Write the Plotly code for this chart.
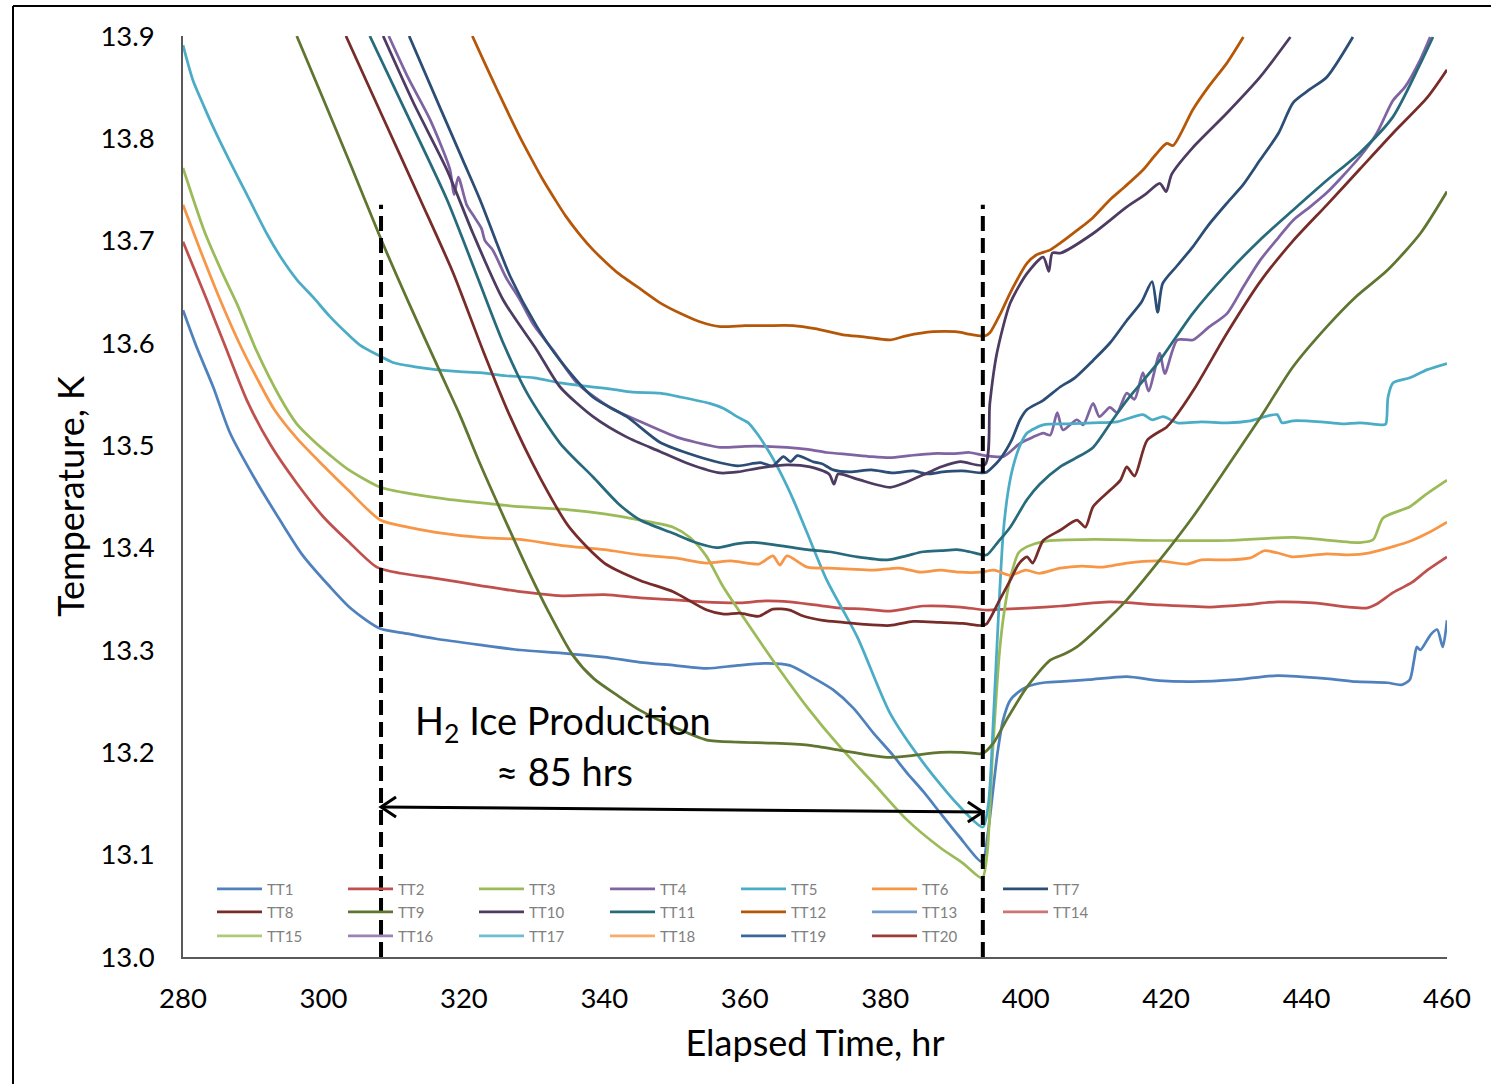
import plotly.graph_objects as go

# ---------------- data ----------------
X_RANGE = [280, 460]
Y_RANGE = [13.0, 13.9]
X_TICKS = [280, 300, 320, 340, 360, 380, 400, 420, 440, 460]
Y_TICKS = [13.0, 13.1, 13.2, 13.3, 13.4, 13.5, 13.6, 13.7, 13.8, 13.9]

SERIES_NAMES = ["TT%d" % i for i in range(1, 21)]
SERIES_COLORS = ["#4F81BD", "#C0504D", "#9BBB59", "#8064A2", "#4BACC6", "#F79646", "#2C4D75",
                 "#772C2A", "#5F7530", "#4D3B62", "#276A7C", "#B65708", "#729ACA", "#CD7371",
                 "#AFC97A", "#9983B5", "#6FBDD1", "#F9AB6B", "#3A679C", "#9E3A38"]

# (elapsed time [hr], temperature [K])
tt1 = [(280, 13.632), (282, 13.595), (284.3, 13.557), (286.7, 13.512), (290, 13.47), (293.8, 13.427),
       (297, 13.393), (300.9, 13.362), (304, 13.34), (308.05, 13.321), (312, 13.316), (316, 13.311),
       (322.3, 13.305), (328, 13.300), (334, 13.297), (340, 13.293), (345.1, 13.288), (350, 13.285),
       (354.6, 13.282), (359, 13.285), (363.2, 13.287), (366.4, 13.285), (369.7, 13.273), (372.6, 13.261),
       (375.5, 13.243), (378.3, 13.219), (381, 13.198), (383.1, 13.180), (385.5, 13.161), (387.8, 13.141),
       (390.5, 13.118), (393.8, 13.093), (394.6, 13.12), (395.3, 13.16), (396, 13.20), (396.8, 13.232),
       (397.8, 13.251), (399, 13.259), (400.2, 13.264), (402.5, 13.268), (404.9, 13.269), (409, 13.271),
       (414.4, 13.274), (419, 13.270), (423.8, 13.269), (430, 13.271), (435.8, 13.275), (442.9, 13.272),
       (447, 13.269), (451.5, 13.268), (453.5, 13.266), (454.7, 13.271), (455.3, 13.290), (455.7, 13.303),
       (456.2, 13.300), (457.2, 13.310), (457.8, 13.316), (458.6, 13.320), (459.4, 13.303), (460, 13.329)]

tt2 = [(280, 13.699), (283.4, 13.642), (286, 13.597), (289.1, 13.544), (292.5, 13.500), (296.2, 13.463),
       (300, 13.430), (303.4, 13.407), (307.6, 13.381), (311, 13.375), (316, 13.370), (322.3, 13.363),
       (328, 13.357), (334, 13.353), (340, 13.354), (345.1, 13.351), (350, 13.349), (354, 13.347),
       (359.3, 13.346), (363, 13.348), (366.4, 13.347), (370, 13.344), (373.6, 13.341), (377, 13.340),
       (380.7, 13.338), (385.4, 13.343), (390.7, 13.342), (394.5, 13.339), (397, 13.340), (400.2, 13.341),
       (405, 13.343), (412, 13.347), (419.1, 13.344), (426.3, 13.342), (431, 13.344), (435.8, 13.347),
       (441, 13.346), (446, 13.342), (448.5, 13.341), (450, 13.345), (452.3, 13.356), (455, 13.366),
       (457.2, 13.378), (460, 13.391)]

tt3 = [(280, 13.771), (283, 13.71), (285.5, 13.67), (287.7, 13.638), (290.5, 13.592), (293.8, 13.547),
       (296.2, 13.521), (298.5, 13.505), (301, 13.490), (303.4, 13.477), (308.1, 13.459), (313, 13.452),
       (318, 13.447), (322.3, 13.444), (328, 13.440), (335, 13.437), (340, 13.433), (345.1, 13.427),
       (349.8, 13.420), (352.2, 13.410), (354.5, 13.392), (356.9, 13.362), (360, 13.330), (364, 13.290),
       (368.9, 13.244), (373.6, 13.205), (378.3, 13.170), (383.1, 13.134), (387.8, 13.107), (391, 13.092),
       (393.8, 13.077), (394.5, 13.10), (395.3, 13.20), (396.3, 13.30), (397.0, 13.34), (397.8, 13.37),
       (399, 13.395), (400.2, 13.401), (402.5, 13.406), (409.6, 13.408), (419.1, 13.407), (428.7, 13.407),
       (438.1, 13.410), (447.6, 13.405), (449.5, 13.408), (450.9, 13.429), (454.7, 13.440), (457, 13.452),
       (460, 13.466)]

tt4 = [(309.3, 13.9), (312, 13.86), (315.2, 13.818), (318.0, 13.770), (318.6, 13.745), (319.2, 13.762),
       (320.4, 13.735), (321.3, 13.725), (322.5, 13.712), (323.0, 13.700), (324.1, 13.691), (326, 13.664),
       (328, 13.642), (330, 13.617), (332.7, 13.593), (336.1, 13.561), (340.8, 13.537), (345.5, 13.522),
       (350.3, 13.508), (353, 13.503), (356.5, 13.498), (360, 13.499), (363, 13.499), (366, 13.498),
       (369, 13.496), (371.7, 13.493), (375, 13.491), (378, 13.489), (380.7, 13.488), (383.5, 13.490),
       (386.8, 13.492), (390, 13.492), (392, 13.493), (394.2, 13.490), (396.8, 13.489), (399.2, 13.502),
       (401, 13.508), (402.5, 13.512), (403.5, 13.510), (404.5, 13.532), (405.3, 13.515), (407.3, 13.525),
       (408.2, 13.520), (409.6, 13.541), (410.5, 13.528), (412, 13.537), (413, 13.532), (414.4, 13.551),
       (415.5, 13.545), (416.7, 13.571), (417.5, 13.553), (419.1, 13.590), (419.8, 13.570), (421.6, 13.603),
       (423.8, 13.603), (426, 13.615), (428.7, 13.629), (431, 13.655), (433.4, 13.681), (436, 13.703),
       (438.1, 13.720), (440.5, 13.733), (442.9, 13.747), (445, 13.762), (447.6, 13.782), (450, 13.805),
       (452.3, 13.837), (454, 13.850), (456.2, 13.877), (457.6, 13.899)]

tt5 = [(280, 13.891), (281.4, 13.857), (283, 13.831), (284.3, 13.811), (286.5, 13.78), (289.1, 13.745),
       (292, 13.706), (294, 13.683), (296.2, 13.662), (298.5, 13.645), (300.9, 13.626), (303.4, 13.609),
       (305.2, 13.598), (308.1, 13.587), (309.9, 13.581), (312.8, 13.577), (316, 13.574), (319.4, 13.572),
       (322.3, 13.571), (326, 13.568), (330, 13.566), (333.7, 13.561), (337, 13.558), (341, 13.555),
       (344, 13.552), (347.9, 13.551), (351, 13.547), (355, 13.541), (357, 13.536), (358.9, 13.528),
       (360.5, 13.522), (361.7, 13.512), (363.6, 13.492), (365.4, 13.469), (366.9, 13.447), (368.9, 13.414),
       (371.7, 13.368), (376, 13.313), (380.7, 13.238), (385.4, 13.190), (390.2, 13.150), (393.9, 13.127),
       (394.7, 13.15), (395.4, 13.232), (396.1, 13.33), (396.8, 13.414), (397.5, 13.455), (398.2, 13.479),
       (399.2, 13.500), (400.2, 13.512), (402.5, 13.520), (406, 13.521), (409.6, 13.522), (413, 13.523),
       (416.7, 13.530), (418, 13.525), (419.6, 13.528), (421.6, 13.522), (425, 13.523), (428.7, 13.522),
       (432, 13.524), (435.8, 13.530), (436.5, 13.522), (438.1, 13.524), (442, 13.523), (445, 13.521),
       (447.6, 13.522), (450.9, 13.520), (451.3, 13.521), (451.6, 13.547), (452.3, 13.561), (454.7, 13.566),
       (457.2, 13.574), (460, 13.580)]

tt6 = [(280, 13.735), (282.5, 13.69), (285.3, 13.642), (288, 13.600), (290.5, 13.566), (293, 13.535),
       (296.2, 13.507), (300, 13.480), (303.4, 13.457), (308.1, 13.427), (312, 13.420), (316, 13.415),
       (322.3, 13.410), (328, 13.408), (334, 13.402), (340, 13.398), (345.1, 13.393), (350, 13.390),
       (354.6, 13.385), (358, 13.387), (362, 13.384), (364, 13.392), (365, 13.383), (366, 13.392),
       (368.9, 13.381), (372, 13.380), (375, 13.379), (378.3, 13.378), (382, 13.380), (385, 13.376),
       (387.8, 13.378), (390.7, 13.376), (393.5, 13.376), (395.5, 13.378), (397.8, 13.373), (400, 13.378),
       (402, 13.375), (404.9, 13.380), (408, 13.382), (411, 13.381), (414.4, 13.385), (419.1, 13.387),
       (423, 13.384), (425, 13.388), (428.7, 13.388), (432, 13.390), (434, 13.397), (435.8, 13.395),
       (438, 13.391), (442.9, 13.394), (446, 13.393), (449, 13.395), (452.3, 13.401), (455, 13.407),
       (457.2, 13.414), (460, 13.425)]

tt7 = [(312.2, 13.9), (316.6, 13.83), (319.9, 13.778), (322.3, 13.740), (326.6, 13.665), (330.4, 13.616),
       (333.7, 13.583), (338.4, 13.547), (343.2, 13.528), (347.9, 13.503), (352, 13.492), (356.5, 13.483),
       (359, 13.480), (362.2, 13.483), (364, 13.480), (365.5, 13.489), (366.5, 13.484), (367.5, 13.490),
       (369.7, 13.484), (371, 13.482), (372.6, 13.476), (375, 13.474), (378, 13.476), (381.1, 13.473),
       (384, 13.475), (386, 13.472), (388.2, 13.474), (391, 13.475), (393.9, 13.473), (394.5, 13.474),
       (396.3, 13.486), (398, 13.505), (399.2, 13.525), (400.2, 13.535), (402.5, 13.544), (404.9, 13.557),
       (407, 13.566), (409.6, 13.583), (412, 13.600), (414.4, 13.622), (416.5, 13.640), (418, 13.660),
       (418.8, 13.630), (419.5, 13.658), (421.5, 13.675), (423.8, 13.694), (426, 13.715), (428.7, 13.737),
       (431, 13.755), (433.4, 13.779), (436, 13.805), (438.1, 13.835), (440.5, 13.848), (442.9, 13.860),
       (446.6, 13.899)]

tt8 = [(303.2, 13.9), (308.1, 13.826), (313.8, 13.740), (318.5, 13.668), (322.7, 13.593), (326.6, 13.528),
       (330.8, 13.469), (335, 13.42), (340, 13.385), (345.1, 13.368), (349.8, 13.357), (354.6, 13.339),
       (357, 13.335), (359.3, 13.336), (362, 13.333), (364, 13.340), (366.4, 13.339), (368, 13.334),
       (371.1, 13.329), (374, 13.327), (377, 13.325), (380.7, 13.324), (384, 13.328), (387.8, 13.327),
       (391, 13.326), (393.9, 13.324), (394.5, 13.326), (396.3, 13.349), (397.8, 13.368), (399, 13.384),
       (400.2, 13.391), (401, 13.385), (402.5, 13.407), (404.9, 13.417), (407.3, 13.427), (408.5, 13.42),
       (409.6, 13.440), (412, 13.456), (413.5, 13.466), (414.4, 13.479), (415.5, 13.47), (417.3, 13.505),
       (420.1, 13.518), (421, 13.525), (424, 13.555), (428.7, 13.61), (433.4, 13.66), (438.1, 13.70),
       (442.9, 13.735), (447.6, 13.770), (452.3, 13.805), (457.2, 13.840), (460, 13.867)]

tt9 = [(296.2, 13.9), (300, 13.838), (304, 13.772), (308.1, 13.703), (312.3, 13.637), (316.6, 13.572),
       (319.4, 13.530), (322.3, 13.482), (326, 13.425), (329, 13.38), (332, 13.338), (335.5, 13.295),
       (338.5, 13.272), (342, 13.255), (345.1, 13.241), (349.8, 13.225), (354.6, 13.212), (359, 13.210),
       (364, 13.209), (369, 13.207), (373.6, 13.202), (377, 13.198), (380.3, 13.195), (384, 13.197),
       (387.8, 13.200), (391, 13.200), (393.9, 13.199), (395.5, 13.21), (397.3, 13.232), (400.2, 13.264),
       (403.5, 13.290), (405.5, 13.296), (407.3, 13.303), (410.6, 13.323), (414.4, 13.349), (419.1, 13.388),
       (423.8, 13.430), (428.7, 13.479), (433.4, 13.527), (438.1, 13.577), (442.9, 13.616), (447, 13.645),
       (451.5, 13.671), (456.2, 13.707), (460, 13.748)]

tt10 = [(308.5, 13.9), (312.8, 13.835), (317.6, 13.769), (321.3, 13.707), (325.6, 13.642), (330.4, 13.593),
        (333.7, 13.557), (338.4, 13.528), (343.2, 13.508), (347.9, 13.494), (352, 13.482), (356.5, 13.473),
        (359, 13.474), (362.2, 13.478), (366, 13.481), (369.3, 13.479), (372, 13.472), (372.7, 13.462),
        (373.3, 13.472), (376, 13.467), (380.7, 13.459), (383, 13.464), (386, 13.473), (388, 13.479),
        (390.7, 13.484), (394.2, 13.481), (394.9, 13.541), (395.9, 13.590), (397.8, 13.639), (400.2, 13.668),
        (402.5, 13.684), (403.3, 13.670), (403.8, 13.688), (405, 13.688), (409.6, 13.707), (414.4, 13.733),
        (417, 13.745), (419.1, 13.756), (420, 13.748), (420.8, 13.765), (423.8, 13.791), (428.7, 13.825),
        (433.4, 13.860), (437.7, 13.899)]

tt11 = [(306.6, 13.9), (312, 13.822), (317.6, 13.740), (321.9, 13.665), (325.6, 13.600), (329, 13.551),
        (333.7, 13.502), (338.4, 13.469), (342, 13.443), (345.1, 13.427), (349.8, 13.414), (353, 13.405),
        (356, 13.400), (359, 13.404), (361.7, 13.405), (365, 13.402), (368.9, 13.398), (372, 13.396),
        (376, 13.391), (380.3, 13.388), (383, 13.392), (385.4, 13.396), (388, 13.397), (390.2, 13.398),
        (392, 13.396), (393.9, 13.393), (394.5, 13.393), (396, 13.405), (397.8, 13.420), (400.2, 13.447),
        (402, 13.462), (404.9, 13.479), (407, 13.487), (409.6, 13.498), (412.4, 13.525), (414.4, 13.544),
        (419.1, 13.583), (423.8, 13.629), (428.7, 13.668), (433.4, 13.701), (438.1, 13.730), (442.9, 13.759),
        (447.6, 13.786), (452.3, 13.821), (456, 13.87), (458, 13.899)]

tt12 = [(321.2, 13.9), (323, 13.873), (324.7, 13.848), (326.5, 13.822), (328, 13.801), (329.7, 13.779),
        (331.3, 13.759), (333, 13.740), (334.5, 13.724), (336.5, 13.706), (338.4, 13.691), (340.2, 13.679),
        (342, 13.668), (345.5, 13.651), (348, 13.639), (350.8, 13.629), (353.5, 13.621), (356.5, 13.616),
        (360, 13.617), (363, 13.617), (366.9, 13.617), (370, 13.614), (374, 13.608), (377, 13.606),
        (380.7, 13.603), (383, 13.607), (386.8, 13.611), (390, 13.611), (392.5, 13.608), (394.2, 13.607),
        (394.9, 13.610), (396.5, 13.630), (397.8, 13.649), (400.2, 13.678), (401.5, 13.686), (403.5, 13.691),
        (405, 13.698), (407.3, 13.710), (409.5, 13.722), (412, 13.740), (414, 13.752), (416.7, 13.769),
        (418.5, 13.784), (420.1, 13.795), (421, 13.793), (423.8, 13.828), (426, 13.85), (428.7, 13.874),
        (431, 13.899)]

# TT13 - TT20 are not visible inside the plotted window
tt13 = []
tt14 = []
tt15 = []
tt16 = []
tt17 = []
tt18 = []
tt19 = []
tt20 = []

SERIES_DATA = [tt1, tt2, tt3, tt4, tt5, tt6, tt7, tt8, tt9, tt10,
               tt11, tt12, tt13, tt14, tt15, tt16, tt17, tt18, tt19, tt20]

EVENT_START = 308.2     # start of H2 ice production (hr)
EVENT_END = 393.9       # end of H2 ice production (hr)
EVENT_LINE_TOP = 13.735
ARROW_Y_START = 13.1466
ARROW_Y_END = 13.1417
LABEL_LINE1 = "H<sub>2</sub> Ice Production"
LABEL_LINE2 = "\u2248 85 hrs"

# ---------------- figure ----------------
FONT = "Lato, 'Open Sans', sans-serif"
W, H = 1491, 1084
ML, MR, MT, MB = 183, 44, 36, 127
PW, PH = W - ML - MR, H - MT - MB
XPX = PW / (X_RANGE[1] - X_RANGE[0])   # pixels per hour
YPX = PH / (Y_RANGE[1] - Y_RANGE[0])   # pixels per kelvin

fig = go.Figure()

legend_ids = ["legend", "legend2", "legend3"]
for i, (name, color, data) in enumerate(zip(SERIES_NAMES, SERIES_COLORS, SERIES_DATA)):
    if data:
        xs = [p[0] for p in data]
        ys = [p[1] for p in data]
    else:
        xs, ys = [None], [None]
    fig.add_trace(go.Scatter(
        x=xs, y=ys, mode="lines", name=name,
        line=dict(color=color, width=2.75, shape="spline", smoothing=0.7),
        legend=legend_ids[i // 7],
        hoverinfo="x+y+name",
    ))

def px_to_paper_x(px):
    return (px - ML) / PW

def py_to_paper_y(py):
    return (H - MB - py) / PH

legend_common = dict(
    orientation="h", xanchor="left", yanchor="middle",
    bgcolor="rgba(0,0,0,0)", borderwidth=0,
    font=dict(family=FONT, size=15, color="#7f7f7f"),
    itemwidth=45, entrywidth=71, entrywidthmode="pixels",
    itemclick=False, itemdoubleclick=False,
)
row_y = [889, 912, 936]
fig.update_layout(
    legend=dict(x=px_to_paper_x(212), y=py_to_paper_y(row_y[0]), **legend_common),
    legend2=dict(x=px_to_paper_x(212), y=py_to_paper_y(row_y[1]), **legend_common),
    legend3=dict(x=px_to_paper_x(212), y=py_to_paper_y(row_y[2]), **legend_common),
)

shapes = []
for xv in (EVENT_START, EVENT_END):
    shapes.append(dict(type="line", xref="x", yref="y", x0=xv, x1=xv,
                       y0=Y_RANGE[0], y1=EVENT_LINE_TOP, layer="above",
                       line=dict(color="black", width=4, dash="15px,7px")))

# double-headed arrow spanning the ice production period
shapes.append(dict(type="line", xref="x", yref="y", x0=EVENT_START, x1=EVENT_END,
                   y0=ARROW_Y_START, y1=ARROW_Y_END, layer="above",
                   line=dict(color="black", width=3)))
head_dx = 15 / XPX
head_dy = 10 / YPX
shapes.append(dict(type="path", xref="x", yref="y", layer="above",
                   path="M %f,%f L %f,%f L %f,%f" % (EVENT_START + head_dx, ARROW_Y_START + head_dy,
                                                     EVENT_START, ARROW_Y_START,
                                                     EVENT_START + head_dx, ARROW_Y_START - head_dy),
                   line=dict(color="black", width=3)))
shapes.append(dict(type="path", xref="x", yref="y", layer="above",
                   path="M %f,%f L %f,%f L %f,%f" % (EVENT_END - head_dx, ARROW_Y_END + head_dy,
                                                     EVENT_END, ARROW_Y_END,
                                                     EVENT_END - head_dx, ARROW_Y_END - head_dy),
                   line=dict(color="black", width=3)))

# outer frame of the picture (left and top edges)
shapes.append(dict(type="line", xref="paper", yref="paper",
                   x0=px_to_paper_x(13), x1=px_to_paper_x(13),
                   y0=py_to_paper_y(6), y1=py_to_paper_y(1090),
                   line=dict(color="black", width=2)))
shapes.append(dict(type="line", xref="paper", yref="paper",
                   x0=px_to_paper_x(13), x1=px_to_paper_x(1500),
                   y0=py_to_paper_y(6), y1=py_to_paper_y(6),
                   line=dict(color="black", width=2)))

annotations = [
    dict(x=334.1, y=13.229, xref="x", yref="y", text=LABEL_LINE1, showarrow=False,
         font=dict(family=FONT, size=38, color="black"), xanchor="center", yanchor="middle"),
    dict(x=334.3, y=13.182, xref="x", yref="y", text=LABEL_LINE2, showarrow=False,
         font=dict(family=FONT, size=38, color="black"), xanchor="center", yanchor="middle"),
]

fig.update_layout(
    width=W, height=H,
    margin=dict(l=ML, r=MR, t=MT, b=MB, pad=0),
    paper_bgcolor="white", plot_bgcolor="white",
    font=dict(family=FONT, color="black"),
    shapes=shapes, annotations=annotations,
    xaxis=dict(range=X_RANGE, tickvals=X_TICKS, ticktext=[str(v) for v in X_TICKS],
               showgrid=False, zeroline=False, showline=True, linecolor="#595959", linewidth=1.5,
               ticks="", ticklabelstandoff=16,
               tickfont=dict(family=FONT, size=27.5, color="black"),
               title=dict(text="Elapsed Time, hr", font=dict(family=FONT, size=36, color="black"),
                          standoff=18)),
    yaxis=dict(range=Y_RANGE, tickvals=Y_TICKS, ticktext=["%.1f" % v for v in Y_TICKS],
               showgrid=False, zeroline=False, showline=True, linecolor="#595959", linewidth=1.5,
               ticks="", ticklabelstandoff=21,
               tickfont=dict(family=FONT, size=27.5, color="black"),
               title=dict(text="Temperature, K", font=dict(family=FONT, size=36, color="black"),
                          standoff=5)),
)

fig.write_html("out.html", config={"displayModeBar": False},
               post_script="document.body.style.margin='0px';document.body.style.overflow='hidden';")
